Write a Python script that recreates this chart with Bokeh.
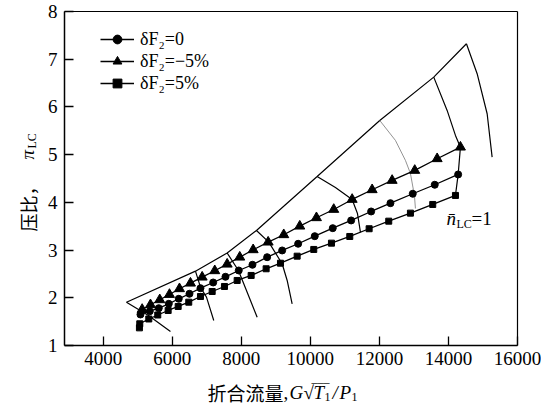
import math
from bokeh.plotting import figure
from bokeh.models import Range1d, FixedTicker, Label, Legend, LegendItem, LinearAxis
from bokeh.embed import file_html
from bokeh.resources import INLINE

# ---------------- data ----------------
# operating lines (corrected flow, pressure ratio)
flow_m5 = [5129, 5370, 5639, 5920, 6210, 6528, 6867, 7232, 7591, 7956, 8344,
           8778, 9230, 9694, 10177, 10678, 11211, 11790, 12369, 13024, 13673, 14347]
pr_m5 = [1.755, 1.853, 1.958, 2.069, 2.189, 2.306, 2.432, 2.566, 2.704, 2.851, 3.006,
         3.166, 3.321, 3.501, 3.677, 3.851, 4.061, 4.264, 4.459, 4.669, 4.914, 5.157]

flow_0 = [5080, 5350, 5610, 5900, 6189, 6499, 6818, 7186, 7542, 7927, 8324,
          8749, 9184, 9647, 10128, 10649, 11182, 11761, 12320, 12966, 13603, 14281]
pr_0 = [1.650, 1.719, 1.782, 1.874, 1.979, 2.084, 2.201, 2.321, 2.440, 2.572, 2.692,
        2.851, 2.992, 3.132, 3.291, 3.459, 3.621, 3.809, 3.983, 4.180, 4.369, 4.585]

flow_p5 = [5050, 5060, 5321, 5581, 5882, 6172, 6479, 6818, 7157, 7513, 7881, 8286,
           8720, 9135, 9618, 10099, 10612, 11142, 11703, 12271, 12899, 13545, 14203]
pr_p5 = [1.370, 1.455, 1.556, 1.639, 1.734, 1.818, 1.908, 2.027, 2.132, 2.237, 2.363, 2.468,
         2.608, 2.725, 2.872, 3.013, 3.145, 3.285, 3.447, 3.606, 3.774, 3.956, 4.145]

# surge line
surge_flow = [4675, 6673, 7591, 8440, 10197, 12010, 13574, 14521]
surge_pr = [1.908, 2.558, 2.939, 3.411, 4.543, 5.717, 6.625, 7.325]

# speed lines
sl1_flow = [4675, 5312, 5949]
sl1_pr = [1.908, 1.629, 1.293]
sl2_flow = [6673, 6818, 6992, 7203]
sl2_pr = [2.558, 2.222, 2.013, 1.524]
sl3_flow = [7591, 7918, 8266, 8460]
sl3_pr = [2.939, 2.572, 1.943, 1.593]
sl4_flow = [8440, 8796, 9184, 9329, 9473]
sl4_pr = [3.411, 3.166, 2.713, 2.363, 1.874]
sl5_flow = [10197, 10727, 11211, 11365, 11452]
sl5_pr = [4.543, 4.312, 4.061, 3.767, 3.369]
sl6_flow = [12010, 12465, 12755, 12899, 13015, 13044]
sl6_pr = [5.717, 5.298, 4.878, 4.606, 4.145, 3.872]
sl7_flow = [13574, 13962, 14203, 14347, 14281, 14203]
sl7_pr = [6.625, 5.927, 5.403, 5.157, 4.585, 4.145]
sl8_flow = [14521, 14831, 15121, 15265]
sl8_pr = [7.325, 6.696, 5.857, 4.948]

x_ticks = [4000, 6000, 8000, 10000, 12000, 14000, 16000]
y_ticks = [1, 2, 3, 4, 5, 6, 7, 8]
x_axis_bounds = (2880, 16000)
y_axis_bounds = (1, 8)
legend_labels = ["δF₂=0", "δF₂=−5%", "δF₂=5%"]

SERIF = "Liberation Serif, DejaVu Serif, serif"
CJK = "Noto Sans CJK SC"

W, H = 541, 407
# plot box on the canvas (pixels)
BOX_L, BOX_R, BOX_T, BOX_B = 64, 517, 11, 345
kx = (x_axis_bounds[1] - x_axis_bounds[0]) / (BOX_R - BOX_L)
ky = (y_axis_bounds[1] - y_axis_bounds[0]) / (BOX_B - BOX_T)
x_range = Range1d(x_axis_bounds[0] - BOX_L * kx, x_axis_bounds[1] + (W - BOX_R) * kx)
y_range = Range1d(y_axis_bounds[0] - (H - BOX_B) * ky, y_axis_bounds[1] + BOX_T * ky)


def sx(cx):
    return cx


def sy(cy):
    return H - cy


p = figure(width=W, height=H, x_range=x_range, y_range=y_range,
           output_backend="svg", toolbar_location=None, min_border=0,
           min_border_left=0, min_border_right=0, min_border_top=0, min_border_bottom=0)
p.background_fill_color = "white"
p.border_fill_color = "white"
p.grid.visible = False
p.outline_line_color = None

bottom_axis = p.below[0]
left_axis = p.left[0]
top_axis = LinearAxis()
right_axis = LinearAxis()
p.add_layout(top_axis, "above")
p.add_layout(right_axis, "right")

for ax in (bottom_axis, left_axis, top_axis, right_axis):
    ax.axis_line_color = "black"
    ax.axis_line_width = 1.5
    ax.major_tick_line_color = "black"
    ax.major_tick_line_width = 1.3
    ax.major_tick_in = 9
    ax.major_tick_out = 0
    ax.minor_tick_line_color = None
    ax.major_label_text_font = SERIF
    ax.major_label_text_font_size = "19px"
    ax.major_label_text_color = "black"

bottom_axis.ticker = FixedTicker(ticks=x_ticks)
left_axis.ticker = FixedTicker(ticks=y_ticks)
bottom_axis.fixed_location = y_axis_bounds[0]
left_axis.fixed_location = x_axis_bounds[0]
bottom_axis.bounds = x_axis_bounds
left_axis.bounds = y_axis_bounds
bottom_axis.major_label_standoff = 6
left_axis.major_label_standoff = 7

top_axis.ticker = FixedTicker(ticks=[])
right_axis.ticker = FixedTicker(ticks=[])
top_axis.fixed_location = y_axis_bounds[1]
right_axis.fixed_location = x_axis_bounds[1]
top_axis.bounds = x_axis_bounds
right_axis.bounds = y_axis_bounds
top_axis.axis_line_width = 1.2
right_axis.axis_line_width = 1.2
top_axis.major_label_text_font_size = "0px"
right_axis.major_label_text_font_size = "0px"

# compressor map lines
p.line(surge_flow, surge_pr, line_color="black", line_width=1.2)
for fx_, fy_ in [(sl1_flow, sl1_pr), (sl2_flow, sl2_pr), (sl3_flow, sl3_pr),
                 (sl4_flow, sl4_pr), (sl5_flow, sl5_pr), (sl7_flow, sl7_pr),
                 (sl8_flow, sl8_pr)]:
    p.line(fx_, fy_, line_color="black", line_width=1.2)
p.line(sl6_flow, sl6_pr, line_color="#777777", line_width=0.8)

# operating lines
l0 = p.line(flow_0, pr_0, line_color="black", line_width=1.3)
m0 = p.scatter(flow_0, pr_0, marker="circle", size=7, color="black")
lm = p.line(flow_m5, pr_m5, line_color="black", line_width=1.3)
mm = p.scatter(flow_m5, pr_m5, marker="triangle", size=10, color="black")
lp = p.line(flow_p5, pr_p5, line_color="black", line_width=1.3)
mp = p.scatter(flow_p5, pr_p5, marker="square", size=6, color="black")

legend = Legend(items=[LegendItem(label=legend_labels[0], renderers=[l0, m0]),
                       LegendItem(label=legend_labels[1], renderers=[lm, mm]),
                       LegendItem(label=legend_labels[2], renderers=[lp, mp])],
                location=(100, 313), orientation="vertical")
legend.glyph_width = 34
legend.glyph_height = 22
legend.label_height = 22
legend.label_standoff = 6
legend.padding = 0
legend.margin = 0
legend.spacing = 0
legend.border_line_color = None
legend.background_fill_alpha = 0
legend.label_text_font = SERIF
legend.label_text_font_size = "18px"
legend.label_text_color = "black"
p.add_layout(legend)


def lab(text, cx, cy, size, font=SERIF, style="normal", angle=0.0):
    p.add_layout(Label(x=sx(cx), y=sy(cy), x_units="screen", y_units="screen", text=text,
                       text_font=font, text_font_size=f"{size}px", text_font_style=style,
                       text_color="black", text_align="left", text_baseline="alphabetic",
                       angle=angle))


# n_LC = 1 annotation
lab("n\u0304", 446, 218, 19, style="italic")
lab("LC", 456, 223, 12)
lab("=1", 471, 218, 19)

# x axis title
lab("折合流量", 207, 392, 19, font=CJK)
lab(",", 283, 392, 19)
lab("G", 289, 392, 19, style="italic")
lab("√", 303, 392, 19)
lab("___", 311, 377, 12)
lab("T", 313, 392, 19, style="italic")
lab("1", 324, 396, 12)
lab("/", 332, 392, 19, style="italic")
lab("P", 339, 392, 19, style="italic")
lab("1", 351, 396, 12)

# y axis title (rotated)
lab("压比，", 27, 231, 18, font=CJK, angle=math.pi / 2)
lab("π", 27, 159, 19, style="italic", angle=math.pi / 2)
lab("LC", 31, 148, 12, angle=math.pi / 2)

open("out.html", "w").write(file_html(p, INLINE))
